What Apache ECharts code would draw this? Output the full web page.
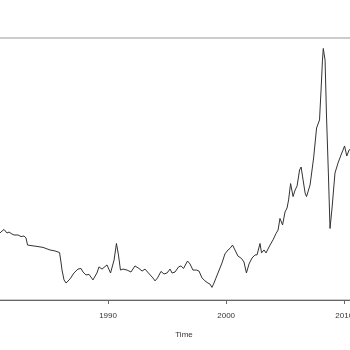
<!DOCTYPE html>
<html>
<head>
<meta charset="utf-8">
<script src="https://cdn.jsdelivr.net/npm/echarts@6/dist/echarts.min.js"></script>
<style>
  html, body { margin: 0; padding: 0; background: #fff; }
  #chart { width: 350px; height: 350px; }
</style>
</head>
<body>
<div id="chart"></div>
<script>
// time (decimal years)
var years = [
  1980.75, 1980.85, 1981.02, 1981.19, 1981.44, 1981.61, 1981.86, 1982.03, 1982.37, 1982.63,
  1982.88, 1983.05, 1983.18, 1983.39, 1983.98, 1984.49, 1985.08, 1985.51, 1985.89, 1986.01,
  1986.10, 1986.27, 1986.44, 1986.78, 1987.11, 1987.45, 1987.71, 1987.88, 1988.13, 1988.39,
  1988.72, 1989.06, 1989.23, 1989.49, 1989.91, 1990.21, 1990.51, 1990.71, 1990.88, 1991.05,
  1991.27, 1991.61, 1991.77, 1991.94, 1992.28, 1992.62, 1992.88, 1993.13, 1993.42, 1993.80,
  1993.98, 1994.19, 1994.48, 1994.74, 1994.99, 1995.25, 1995.42, 1995.67, 1995.97, 1996.18,
  1996.39, 1996.73, 1996.94, 1997.19, 1997.49, 1997.70, 1997.96, 1998.21, 1998.46, 1998.63,
  1998.80, 1998.97, 1999.31, 1999.65, 1999.90, 2000.16, 2000.33, 2000.54, 2000.75, 2001.00,
  2001.30, 2001.51, 2001.72, 2001.94, 2002.19, 2002.45, 2002.62, 2002.87, 2003.00, 2003.21,
  2003.38, 2003.59, 2003.72, 2003.97, 2004.23, 2004.40, 2004.56, 2004.78, 2004.99, 2005.16,
  2005.29, 2005.46, 2005.67, 2005.84, 2006.01, 2006.22, 2006.35, 2006.52, 2006.69, 2006.81,
  2006.94, 2007.11, 2007.41, 2007.66, 2007.91, 2008.04, 2008.16, 2008.23, 2008.38, 2008.50,
  2008.66, 2008.80, 2008.97, 2009.22, 2009.48, 2009.73, 2009.90, 2010.03, 2010.22, 2010.41,
  2010.66
]
// price level at each time
var prices = [
  38.5, 39.0, 40.0, 40.8, 39.0, 39.5, 38.5, 38.0, 38.0, 37.2,
  37.5, 36.5, 32.9, 32.7, 32.2, 31.7, 30.4, 29.9, 29.1, 24.3,
  20.2, 15.2, 13.6, 15.7, 18.7, 20.7, 21.0, 19.2, 17.7, 18.0,
  15.2, 18.7, 21.8, 20.7, 22.8, 18.7, 25.3, 33.7, 27.9, 20.2,
  20.7, 20.2, 21.0, 19.2, 22.3, 21.0, 19.7, 20.7, 18.7, 16.2,
  14.7, 16.2, 19.5, 18.2, 18.7, 20.7, 18.7, 19.2, 21.8, 22.3,
  21.0, 24.8, 23.3, 20.2, 20.2, 19.7, 16.2, 14.7, 13.6, 13.1,
  11.4, 13.6, 18.7, 23.8, 28.4, 30.4, 31.2, 32.9, 30.4, 27.3,
  26.1, 24.3, 18.7, 23.3, 26.3, 27.9, 27.9, 33.7, 28.9, 30.4,
  28.9, 31.4, 32.9, 35.5, 38.8, 40.5, 46.4, 43.1, 49.7, 51.7,
  55.8, 64.1, 57.5, 60.8, 62.9, 71.0, 72.5, 65.9, 59.3, 57.5,
  56.5, 63.4, 77.1, 92.3, 96.4, 111.6, 126.8, 132.7, 126.8, 98.9,
  69.5, 41.3, 51.7, 69.5, 74.6, 78.6, 81.1, 83.2, 78.1, 81.1,
  82.2
]
var xTicks = [1980, 1990, 2000, 2010]

var chart = echarts.init(document.getElementById('chart'))
chart.setOption({
  animation: false,
  backgroundColor: '#fff',
  grid: {
    left: -10,
    right: -6,
    top: 38,
    bottom: 50,
    outerBoundsMode: 'none',
    show: true,
    borderColor: '#999',
    borderWidth: 1
  },
  xAxis: {
    type: 'value',
    min: 1980,
    max: 2011,
    interval: 10,
    splitLine: { show: false },
    axisLine: { lineStyle: { color: '#666', width: 1 } },
    axisTick: { inside: false, length: 4, lineStyle: { color: '#666' } },
    axisLabel: {
      margin: 12,
      fontSize: 8,
      fontFamily: 'Liberation Sans, Arial, sans-serif',
      color: '#333',
      showMaxLabel: false,
      formatter: function (v) {
        return xTicks.indexOf(v) >= 0 ? String(v) : ''
      }
    }
  },
  yAxis: {
    type: 'value',
    min: 5,
    max: 138,
    show: false,
    splitLine: { show: false }
  },
  graphic: [
    {
      type: 'text',
      x: 184,
      y: 335,
      style: {
        text: 'Time',
        fontSize: 8,
        fontFamily: 'Liberation Sans, Arial, sans-serif',
        fill: '#333',
        textAlign: 'center',
        textVerticalAlign: 'middle'
      }
    }
  ],
  series: [
    {
      type: 'line',
      showSymbol: false,
      clip: true,
      lineStyle: { color: '#333', width: 1 },
      data: years.map(function (t, i) { return [t, prices[i]] })
    }
  ]
})
</script>
</body>
</html>
